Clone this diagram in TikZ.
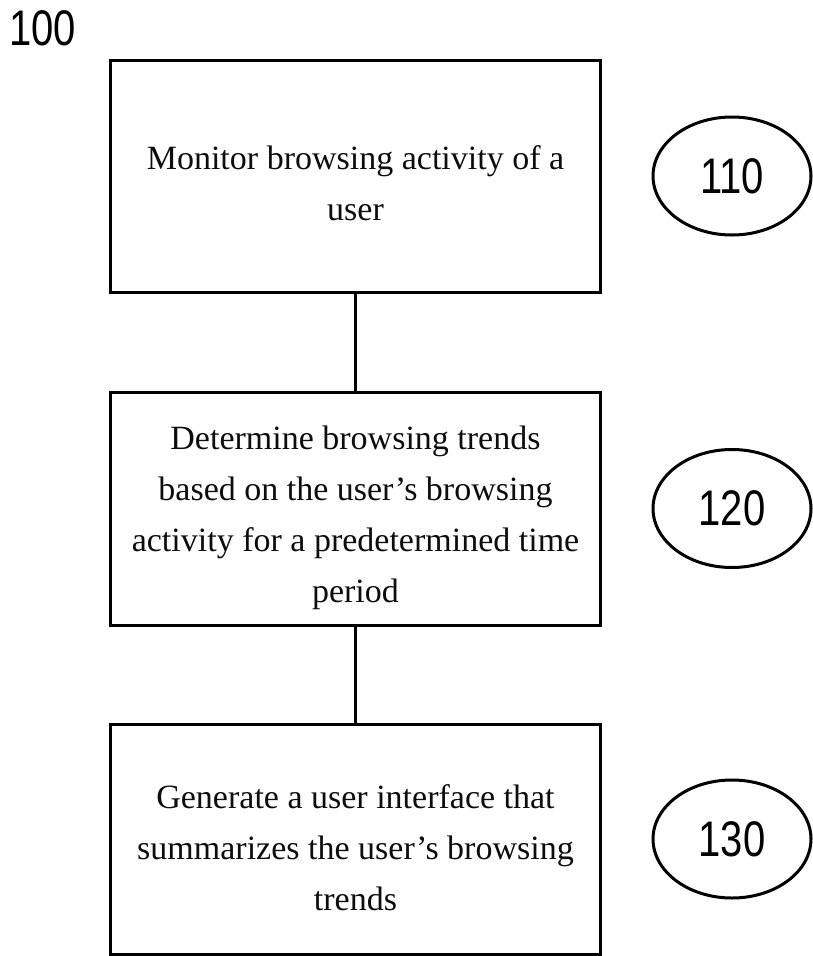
\documentclass[tikz,border=0pt]{standalone}
\usepackage{fontspec}
\setmainfont{Liberation Serif}
\newfontfamily\numfont{Liberation Sans}[FakeStretch=0.8]
\usetikzlibrary{positioning,shapes.geometric}
\newcommand\toppad[1]{\rule{0pt}{#1}}
\tikzset{
  stepbox/.style={draw,line width=3pt,minimum width=490pt,align=center,font=\fontsize{34}{51}\selectfont,text=black!95,inner sep=4pt},
  refnum/.style={draw,ellipse,line width=3pt,minimum width=158pt,minimum height=118pt,inner sep=0pt,font=\numfont\fontsize{50}{50}\selectfont},
  conn/.style={line width=3pt},
}

\begin{document}
\begin{tikzpicture}[x=1pt,y=-1pt]
\useasboundingbox (0,0) rectangle (813,956);
\node[anchor=base west,inner sep=0pt,font=\numfont\fontsize{50}{50}\selectfont] (fig) at (9,45) {100};
\node[stepbox,minimum height=232pt] (monitor) at (355.5,176) {\toppad{38pt}Monitor browsing activity of a\\user};
\node[stepbox,minimum height=233pt,below=97pt of monitor] (trends) {\toppad{42pt}Determine browsing trends\\based on the user’s browsing\\activity for a predetermined time\\period};
\node[stepbox,minimum height=230pt,below=96pt of trends] (summary) {\toppad{42pt}Generate a user interface that\\summarizes the user’s browsing\\trends};
\node[refnum,right=49.5pt of monitor] (n110) {110};
\node[refnum,right=49.5pt of trends] (n120) {120};
\node[refnum,right=49.5pt of summary] (n130) {130};
\draw[conn] (monitor) -- (trends);
\draw[conn] (trends) -- (summary);
\end{tikzpicture}
\end{document}
